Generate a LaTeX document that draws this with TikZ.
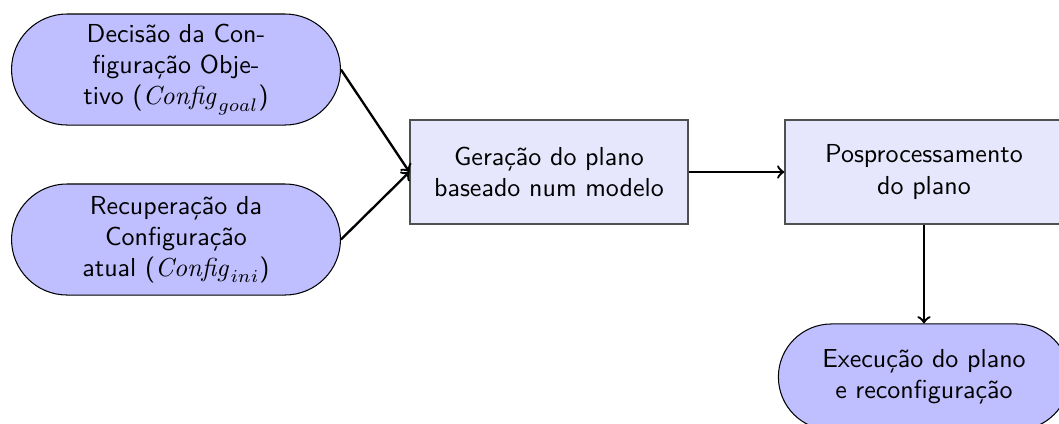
\documentclass[tikz,border=0pt]{standalone}
\usetikzlibrary{shapes.misc,arrows}
\definecolor{stadfill}{RGB}{191,191,255}
\definecolor{boxfill}{RGB}{230,230,252}
\definecolor{boxline}{RGB}{80,80,80}
\tikzset{
  stadium/.style={rounded rectangle, draw=black, line width=0.4pt, fill=stadfill,
    align=center, font=\sffamily, inner sep=2pt},
  procbox/.style={rectangle, draw=boxline, line width=0.5pt, fill=boxfill,
    align=center, font=\sffamily, minimum width=106.9pt, minimum height=40pt, inner sep=2pt},
  conn/.style={->, >=to, line width=0.9pt}
}
\begin{document}
\begin{tikzpicture}[x=0.3846pt, y=-0.3846pt]
\useasboundingbox (0,0) rectangle (1059,423);
\clip (0,0) rectangle (1059,423);
\node[stadium, minimum width=130.5pt, minimum height=42.7pt] (goal) at (176,69.5)
  {Decisão da Con-\\figuração Obje-\\tivo ($\mathit{Config}_{goal}$)};
\node[stadium, minimum width=130.5pt, minimum height=42.7pt] (ini) at (176,239.5)
  {Recuperação da\\Configuração\\atual ($\mathit{Config}_{ini}$)};
\node[procbox] (gen) at (549,172) {Geração do plano\\baseado num modelo};
\node[procbox] (post) at (924,172) {Posprocessamento\\do plano};
\node[stadium, minimum width=116pt, minimum height=40.8pt] (exec) at (924,377)
  {Execução do plano\\e reconfiguração};
\draw[conn] (goal.east) -- (gen.west);
\draw[conn] (ini.east) -- (gen.west);
\draw[conn] (gen.east) -- (post.west);
\draw[conn] (post.south) -- (exec.north);
\end{tikzpicture}
\end{document}
